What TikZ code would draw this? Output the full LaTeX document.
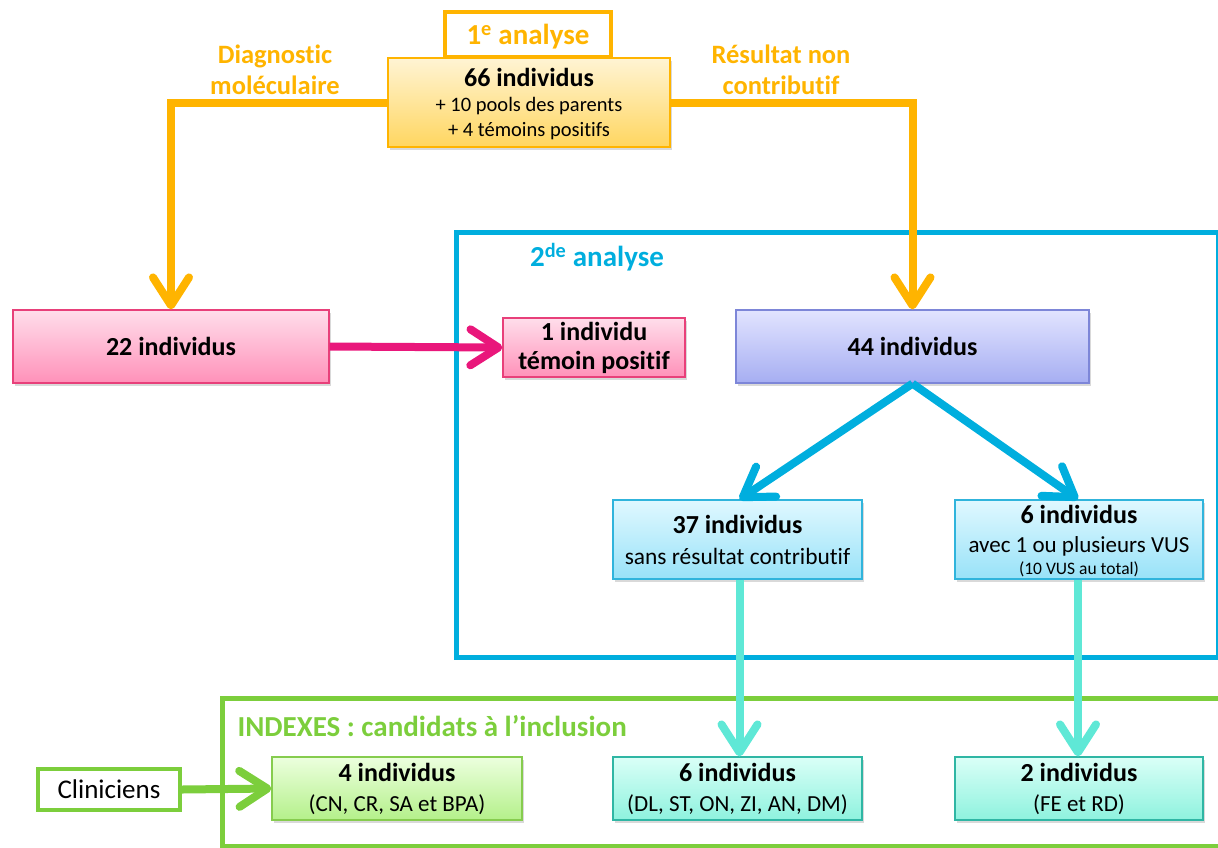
\documentclass[tikz,border=0pt]{standalone}
\usepackage{fontspec}
\setmainfont{Carlito}[Ligatures=NoCommon]
\usetikzlibrary{arrows.meta,shadows}

\newlength{\du}
\setlength{\du}{1pt}

% colours
\definecolor{orangeline}{RGB}{255,180,0}
\definecolor{blueline}{RGB}{0,174,222}
\definecolor{greenline}{RGB}{124,206,60}
\definecolor{pinkline}{RGB}{233,23,123}
\definecolor{tealline}{RGB}{95,232,214}
\definecolor{yellowtop}{RGB}{255,244,212}
\definecolor{yellowbot}{RGB}{255,214,96}
\definecolor{pinktop}{RGB}{255,222,235}
\definecolor{pinkbot}{RGB}{255,145,185}
\definecolor{pinkedge}{RGB}{232,64,122}
\definecolor{lavtop}{RGB}{226,228,255}
\definecolor{lavbot}{RGB}{166,174,242}
\definecolor{lavedge}{RGB}{125,134,216}
\definecolor{cyantop}{RGB}{224,248,255}
\definecolor{cyanbot}{RGB}{152,226,248}
\definecolor{cyanedge}{RGB}{48,180,220}
\definecolor{greentop}{RGB}{236,255,222}
\definecolor{greenbot}{RGB}{180,240,138}
\definecolor{greenedge}{RGB}{134,204,78}
\definecolor{tealtop}{RGB}{218,255,247}
\definecolor{tealbot}{RGB}{142,242,222}
\definecolor{tealedge}{RGB}{47,182,164}

\tikzset{
  box/.style={draw, line width=1.2\du, inner sep=0pt, align=center,
    drop shadow={shadow xshift=1.5\du, shadow yshift=-2.5\du, opacity=0.3}},
  yellowbox/.style={box, draw=orangeline, top color=yellowtop, bottom color=yellowbot},
  pinkbox/.style={box, draw=pinkedge, top color=pinktop, bottom color=pinkbot},
  lavbox/.style={box, draw=lavedge, top color=lavtop, bottom color=lavbot},
  cyanbox/.style={box, draw=cyanedge, top color=cyantop, bottom color=cyanbot},
  greenbox/.style={box, draw=greenedge, top color=greentop, bottom color=greenbot},
  tealbox/.style={box, draw=tealedge, top color=tealtop, bottom color=tealbot},
  flow/.style={line width=8\du, -{Straight Barb[round, length=28pt, width=36pt]}},
  orangelabel/.style={text=orangeline, align=center,
    font=\fontsize{26.5}{31}\selectfont\bfseries},
  heading/.style={font=\fontsize{29}{32}\selectfont\bfseries},
  big/.style={font=\fontsize{26}{30}\selectfont\bfseries},
}
\newcommand{\headline}[1]{{\fontsize{26}{30}\selectfont\bfseries #1}}

\begin{document}
\begin{tikzpicture}[x=1\du, y=-1\du]
\useasboundingbox (0,0) rectangle (1218,847);

% frames of the two steps
\begin{scope}
\clip (0,0) rectangle (1218,847);
\draw[blueline, line width=5\du] (456,232) rectangle (1218,657);
\draw[greenline, line width=5\du] (222,698) rectangle (1240,846);
\end{scope}
\node[text=blueline, heading] (t2) at (597,257) {2\textsuperscript{de} analyse};
\node[text=greenline, anchor=west, heading] (tidx) at (234,726) {INDEXES : candidats à l’inclusion};

% first analysis
\node[yellowbox, minimum width=282\du, minimum height=89\du, text depth=0pt,
  font=\fontsize{20.5}{25}\selectfont] (n66) at (529,102.5)
  {\headline{66 individus}\\[0.5\du] + 10 pools des parents\\ + 4 témoins positifs};
\node[draw=orangeline, fill=white, line width=4\du, minimum width=166\du, minimum height=45\du,
  text depth=0pt, text=orangeline, heading] (a1) at (528,34.5) {1\textsuperscript{e} analyse};
\node[orangelabel] (diag) at (275,70) {Diagnostic\\moléculaire};
\node[orangelabel] (resnc) at (781,70) {Résultat non\\contributif};

% second row
\node[pinkbox, big, minimum width=316\du, minimum height=73\du] (n22) at (171,346.5) {22 individus};
\node[pinkbox, minimum width=182\du, minimum height=59\du,
  font=\fontsize{26}{29}\selectfont\bfseries] (n1) at (594,347.5) {1 individu\\témoin positif};
\node[lavbox, big, minimum width=353\du, minimum height=73\du] (n44) at (912.5,346.5) {44 individus};

% third row
\node[cyanbox, minimum width=249\du, minimum height=79\du,
  font=\fontsize{23.4}{31}\selectfont] (n37) at (737.5,539.5)
  {\headline{37 individus}\\ sans résultat contributif};
\node[cyanbox, minimum width=248\du, minimum height=79\du, text depth=0pt,
  font=\fontsize{23}{22}\selectfont] (n6) at (1079,539.5)
  {\headline{6 individus}\\[7\du] avec 1 ou plusieurs VUS\\
   {\fontsize{17.5}{20}\selectfont (10 VUS au total)}};

% indexes
\node[draw=greenline, fill=white, line width=4\du, minimum width=142\du, minimum height=41\du,
  font=\fontsize{27}{30}\selectfont] (clin) at (109,789.5) {Cliniciens};
\node[greenbox, minimum width=250\du, minimum height=63\du,
  font=\fontsize{23}{30}\selectfont] (n4) at (397,788.5)
  {\headline{4 individus}\\ (CN, CR, SA et BPA)};
\node[tealbox, minimum width=249\du, minimum height=63\du,
  font=\fontsize{23}{30}\selectfont] (n6b) at (737.5,788.5)
  {\headline{6 individus}\\ (DL, ST, ON, ZI, AN, DM)};
\node[tealbox, minimum width=248\du, minimum height=63\du,
  font=\fontsize{23}{30}\selectfont] (n2) at (1079,788.5)
  {\headline{2 individus}\\ (FE et RD)};

% connectors
\draw[flow, orangeline] (n66.west) -| (n22.north);
\draw[flow, orangeline] (n66.east) -| (n44.north);
\draw[flow, pinkline] (n22.east) -- (n1.west);
\draw[flow, blueline] (n44.south) -- ([xshift=2\du]n37.north);
\draw[flow, blueline] (n44.south) -- ([xshift=-1\du]n6.north);
\draw[flow, tealline] ([xshift=2\du]n37.south) -- ([xshift=2\du]n6b.north);
\draw[flow, tealline] ([xshift=-1\du]n6.south) -- ([xshift=-1\du]n2.north);
\draw[flow, greenline] (clin.east) -- (n4.west);
\end{tikzpicture}
\end{document}
